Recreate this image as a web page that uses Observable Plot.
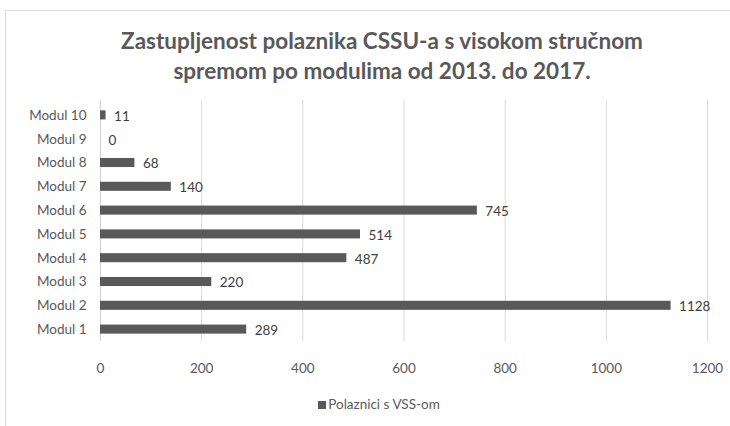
<!DOCTYPE html>
<html>
<head>
<meta charset="utf-8">
<script src="https://cdn.jsdelivr.net/npm/d3@7"></script>
<script src="https://cdn.jsdelivr.net/npm/@observablehq/plot@0.6"></script>
<style>
  html, body { margin: 0; padding: 0; background: #fff; overflow: hidden; width: 730px; height: 426px; }
  body { position: relative; font-family: Lato, "Open Sans", sans-serif; color: #595959; }
  #frame { position: absolute; left: 5px; top: 10px; width: 800px; height: 500px; border: 1px solid #d9d9d9; box-sizing: border-box; }
  #title { position: absolute; left: 0; width: 764px; top: 26px; text-align: center; font-weight: bold; font-size: 22.5px; line-height: 30px; color: #595959; }
  #chart { position: absolute; left: 0; top: 95px; }
  #legend { position: absolute; left: 0; width: 758px; top: 396px; text-align: center; font-size: 13.5px; color: #595959; }
  #legend .sw { display: inline-block; width: 8px; height: 8px; background: #595959; margin-right: 2px; }
</style>
</head>
<body>
<div id="frame"></div>
<div id="title">Zastupljenost polaznika CSSU-a s visokom stručnom<br>spremom po modulima od 2013. do 2017.</div>
<div id="chart"></div>
<div id="legend"><span class="sw"></span>Polaznici s VSS-om</div>
<script>
const categories = ["Modul 1", "Modul 2", "Modul 3", "Modul 4", "Modul 5", "Modul 6", "Modul 7", "Modul 8", "Modul 9", "Modul 10"];
const values = [289, 1128, 220, 487, 514, 745, 140, 68, 0, 11];
const xTicks = [0, 200, 400, 600, 800, 1000, 1200];

const data = categories.map((c, i) => ({ modul: c, value: values[i] }));
const yDomain = categories.slice().reverse();

const chart = Plot.plot({
  width: 730,
  height: 286,
  marginLeft: 100,
  marginRight: 23,
  marginTop: 8,
  marginBottom: 40,
  style: { fontFamily: "Lato, 'Open Sans', sans-serif", fontSize: "13.5px", color: "#595959", background: "transparent" },
  x: { domain: [0, 1200], ticks: xTicks, label: null },
  y: { domain: yDomain, label: null, paddingInner: 0.62, paddingOuter: 0.31, round: false },
  marks: [
    Plot.gridX(xTicks.filter(t => t > 0), { stroke: "#d9d9d9", strokeOpacity: 1, insetTop: -3 }),
    Plot.ruleX([0], { stroke: "#d0d0d0", insetTop: -3 }),
    Plot.axisX({ ticks: xTicks, tickSize: 0, tickPadding: 22, tickFormat: d => String(d), fill: "#595959", fontSize: 13.5 }),
    Plot.axisY({ tickSize: 0, tickPadding: 14, fill: "#595959", fontSize: 13.5 }),
    Plot.barX(data, { x: "value", y: "modul", fill: "#595959" }),
    Plot.text(data, { x: "value", y: "modul", text: d => String(d.value), dx: 8, dy: 1, textAnchor: "start", fill: "#404040", fontSize: 13.5 })
  ]
});
document.getElementById("chart").appendChild(chart);
</script>
</body>
</html>
